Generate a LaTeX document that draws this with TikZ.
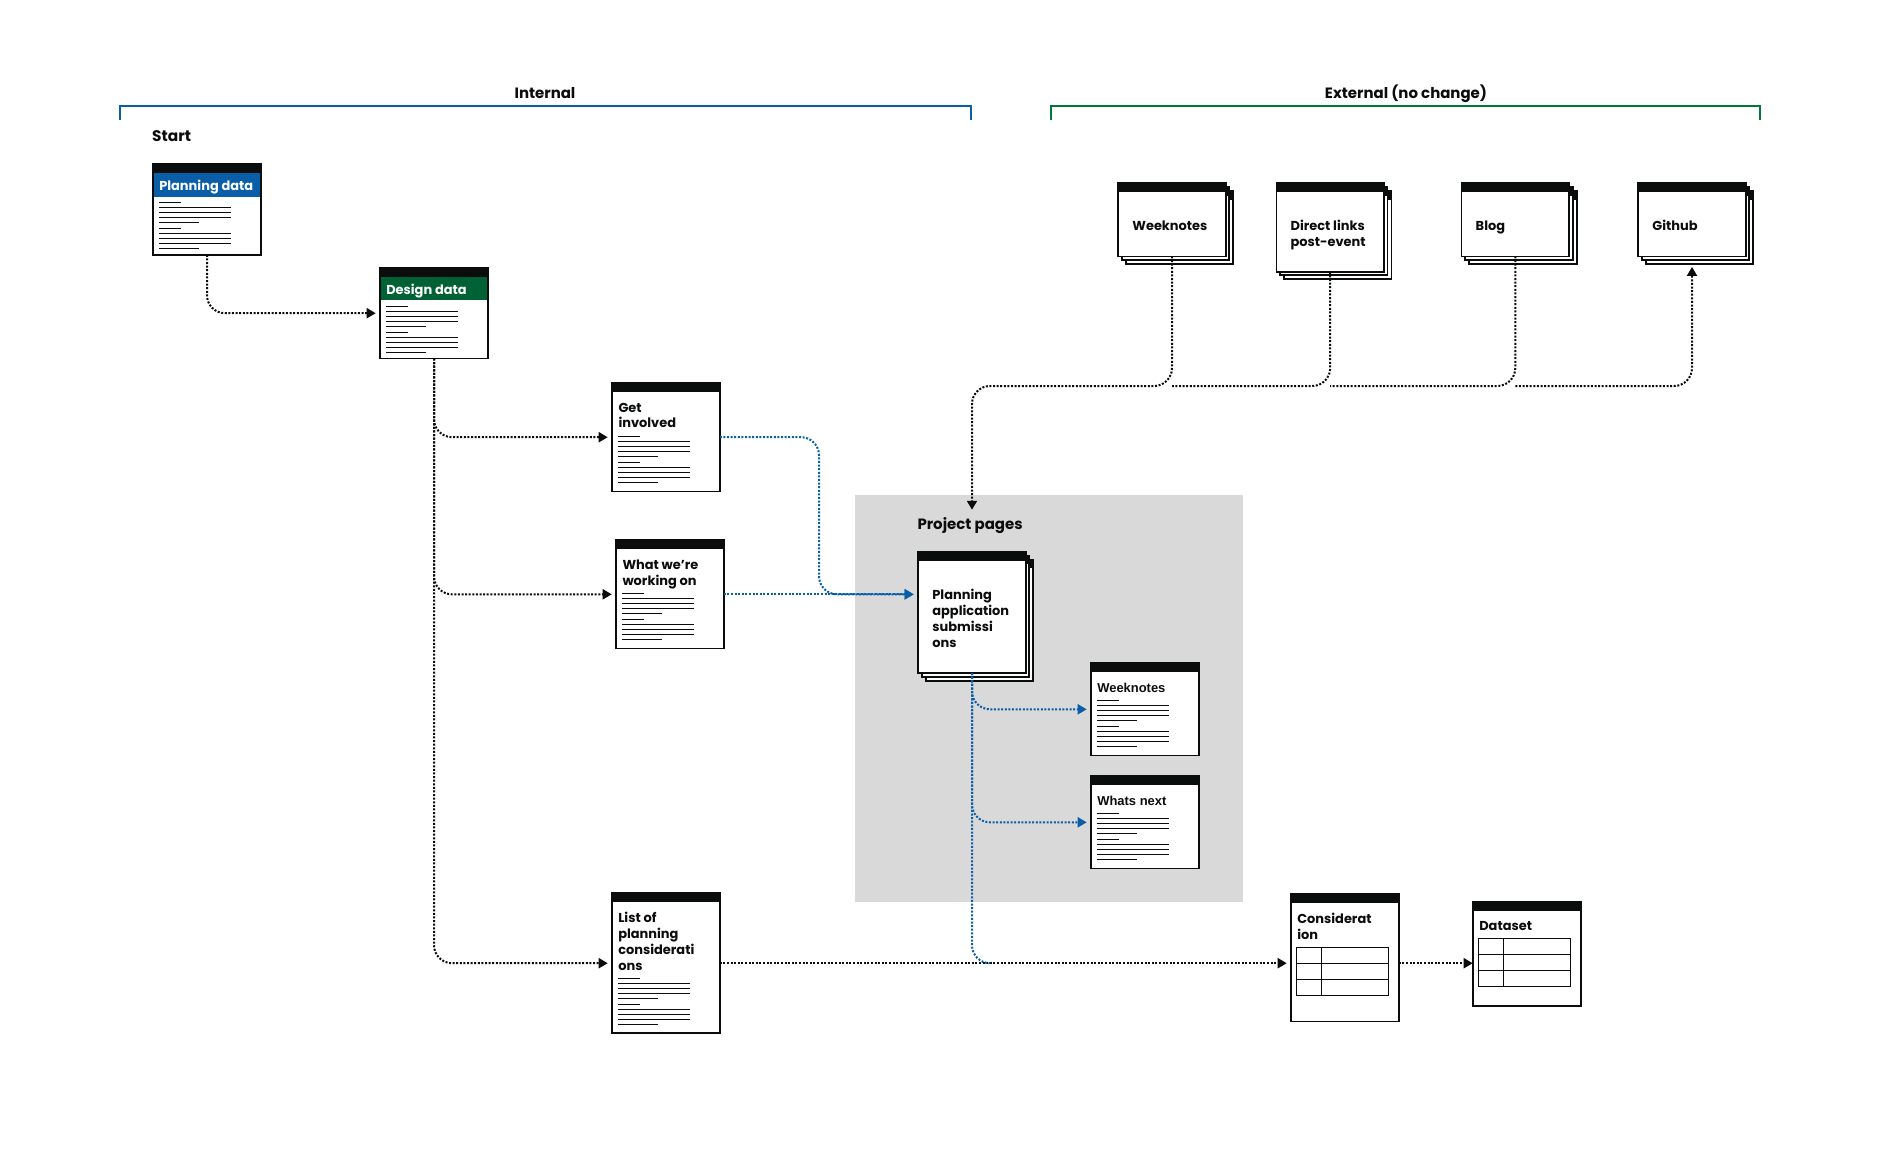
\documentclass[tikz,border=0pt]{standalone}
\usepackage{fontspec}
\setmainfont{Poppins}
\newfontfamily\plainsans{Liberation Sans}
\usetikzlibrary{arrows.meta,calc,positioning}

\definecolor{inkblack}{RGB}{11,12,12}
\definecolor{govblue}{RGB}{10,94,168}
\definecolor{govgreen}{RGB}{0,120,55}
\definecolor{bandgreen}{RGB}{0,98,52}
\definecolor{panelgray}{RGB}{217,217,217}

\tikzset{
  docbox/.style={draw=inkblack, line width=1.8bp, fill=white, minimum width=107.6bp, inner sep=0pt, outer sep=0pt},
  flowline/.style={draw=inkblack, line width=2bp, dash pattern=on 2bp off 1.6bp, rounded corners=18bp},
  flow/.style={flowline, shorten >=4.5bp, -{Triangle[length=9bp,width=10bp]}},
  blueflow/.style={flow, draw=govblue},
  txtline/.style={draw=inkblack, line width=0.9bp},
  tblline/.style={draw=inkblack, line width=1bp},
  boxtitle/.style={anchor=base west, inner sep=0pt, align=left, text=inkblack, font=\bfseries\fontsize{13}{16}\selectfont},
  heading/.style={text=inkblack, font=\bfseries\fontsize{15}{18}\selectfont},
}

% one page: frame + black header bar
\newcommand{\docpage}[4]{%
  \node[docbox, minimum height=#4bp] (#1) at (#2,#3) {};
  \fill[inkblack] (#1.north west) rectangle ([yshift=-9bp]#1.north east);
}
% page with two copies behind it
\newcommand{\docstack}[4]{%
  \foreach \o in {7.5,3.5} {
    \filldraw[fill=white, draw=inkblack, line width=1.8bp] (#2-53.8+\o,#3-#4/2+\o) rectangle ++(107.6,#4);
    \fill[inkblack] (#2-53.8+\o,#3-#4/2+\o) rectangle ++(107.6,9);
  }
  \docpage{#1}{#2}{#3}{#4}
}
\newcommand{\doclines}[3]{%
  \foreach \dy/\len in {0/22,5/72,10/72,15/72,20/40,26/22,31/72,36/72,41/72,46/40}
    \draw[txtline] ($(#1.north west)+(#2,#3+\dy)$) -- ++(\len,0);
}
\newcommand{\minitable}[3]{%
  \draw[tblline] ($(#1.north west)+(#2,#3)$) rectangle ++(92,48)
    ($(#1.north west)+(#2,#3+16)$) -- ++(92,0)
    ($(#1.north west)+(#2,#3+32)$) -- ++(92,0)
    ($(#1.north west)+(#2+25,#3)$) -- ++(0,48);
}

\begin{document}
\begin{tikzpicture}[x=1bp, y=-1bp]
  \fill[white] (0,0) rectangle (1878,1169);
  % internal / external brackets
  \draw[govblue, line width=2bp] (119.5,120) -- (119.5,105.7) -- (970.6,105.7) -- (970.6,120);
  \draw[govgreen, line width=2bp] (1051.3,120) -- (1051.3,105.7) -- (1760,105.7) -- (1760,120);
  \node[heading] (intl) at (545,92.7) {Internal};
  \node[heading] (extl) at (1406,93.5) {External (no change)};
  \node[heading, anchor=west, inner sep=0pt, font=\bfseries\fontsize{15.4}{19}\selectfont] (startl) at (152,136) {Start};

  % project pages panel
  \fill[panelgray] (855,495) rectangle (1243,902);
  \node[heading, anchor=west, inner sep=3bp, font=\bfseries\fontsize{15}{18}\selectfont] (ppl) at (914.3,525.5) {Project pages};

  % internal pages
  \docpage{plan}{207}{209.5}{90.6}
  \fill[govblue] ([shift={(0.9bp,-9bp)}]plan.north west) rectangle ([shift={(-0.9bp,-32.5bp)}]plan.north east);
  \node[boxtitle, text=white] (plan-t) at ($(plan.north west)+(5.9,26.1)$) {Planning data};
  \doclines{plan}{5.8}{38.1}

  \docpage{design}{434}{313.2}{90.5}
  \fill[bandgreen] ([shift={(0.9bp,-9bp)}]design.north west) rectangle ([shift={(-0.9bp,-32.5bp)}]design.north east);
  \node[boxtitle, text=white] (design-t) at ($(design.north west)+(5.9,26.1)$) {Design data};
  \doclines{design}{5.8}{38.4}

  \docpage{getinv}{666}{437.2}{108.5}
  \node[boxtitle] (getinv-t) at ($(getinv.north west)+(6.1,45)$) {Get\\involved};
  \doclines{getinv}{6.1}{53.4}

  \docpage{wwwo}{670}{594.3}{108.2}
  \node[boxtitle] (wwwo-t) at ($(wwwo.north west)+(6.1,45)$) {What we’re\\working on};
  \doclines{wwwo}{6.1}{53.1}

  \docpage{listpc}{666}{963.2}{139.9}
  \node[boxtitle] (listpc-t) at ($(listpc.north west)+(5.9,77)$) {List of\\planning\\considerati\\ons};
  \doclines{listpc}{5.8}{85.1}

  \docpage{cons}{1345}{957.8}{127.2}
  \node[boxtitle] (cons-t) at ($(cons.north west)+(5.9,45)$) {Considerat\\ion};
  \minitable{cons}{5.7}{53.1}

  \docpage{dataset}{1527}{953.9}{104.5}
  \node[boxtitle] (dataset-t) at ($(dataset.north west)+(5.9,29)$) {Dataset};
  \minitable{dataset}{5.7}{36.7}

  % project pages
  \docstack{pas}{972}{612.5}{121.2}
  \node[boxtitle] (pas-t) at ($(pas.north west)+(14,95.6)$) {Planning\\application\\submissi\\ons};

  \docpage{pwk}{1145}{709.3}{92.2}
  \node[boxtitle, font=\plainsans\bfseries\fontsize{13}{16}\selectfont] (pwk-t) at ($(pwk.north west)+(5.9,29)$) {Weeknotes};
  \doclines{pwk}{5.4}{36.8}

  \docpage{pwn}{1145}{822.3}{92.2}
  \node[boxtitle, font=\plainsans\bfseries\fontsize{13}{16}\selectfont] (pwn-t) at ($(pwn.north west)+(5.9,29)$) {Whats next};
  \doclines{pwn}{5.4}{36.8}

  % external pages
  \docstack{ewk}{1172}{219.8}{73.2}
  \node[boxtitle] (ewk-t) at ($(ewk.north west)+(14,47.6)$) {Weeknotes};
  \docstack{edl}{1330.2}{227.5}{88.6}
  \node[boxtitle] (edl-t) at ($(edl.north west)+(14,63.6)$) {Direct links\\post-event};
  \docstack{eblog}{1515.3}{219.8}{73.2}
  \node[boxtitle] (eblog-t) at ($(eblog.north west)+(14,47.6)$) {Blog};
  \docstack{egh}{1692}{219.8}{73.2}
  \node[boxtitle] (egh-t) at ($(egh.north west)+(14,47.6)$) {Github};

  \coordinate (bus) at (972,386);
  \coordinate (bj) at (819,500);

  % black flows
  \draw[flow] (plan.south) |- (design.west);
  \draw[flow] (design.south) |- (getinv.west);
  \draw[flow] (design.south) |- (wwwo.west);
  \draw[flow] (design.south) |- (listpc.west);
  \draw[flow] (listpc.east) -- (listpc.east -| cons.west);
  \draw[flow, shorten >=0.5bp] (cons.east |- listpc.east) -- (listpc.east -| dataset.west);

  \draw[flow] (ewk.south) |- (bus) -- (bus |- ppl.north);
  \draw[flowline] (edl.south) |- (ewk.south |- bus);
  \draw[flowline] (eblog.south) |- (edl.south |- bus);
  \draw[flow] (eblog.south |- bus) -| ([yshift=-6bp]egh.south);

  % blue flows
  \draw[blueflow] (getinv.east) -| (bj) |- (pas.west |- wwwo.east);
  \draw[blueflow] (wwwo.east) -- (pas.west |- wwwo.east);
  \draw[blueflow] (pas.south) |- (pwk.west);
  \draw[blueflow] (pas.south) |- (pwn.west);
  \draw[flowline, draw=govblue] (pas.south) |- ([xshift=20bp]pas.south |- listpc.east);
\end{tikzpicture}
\end{document}
